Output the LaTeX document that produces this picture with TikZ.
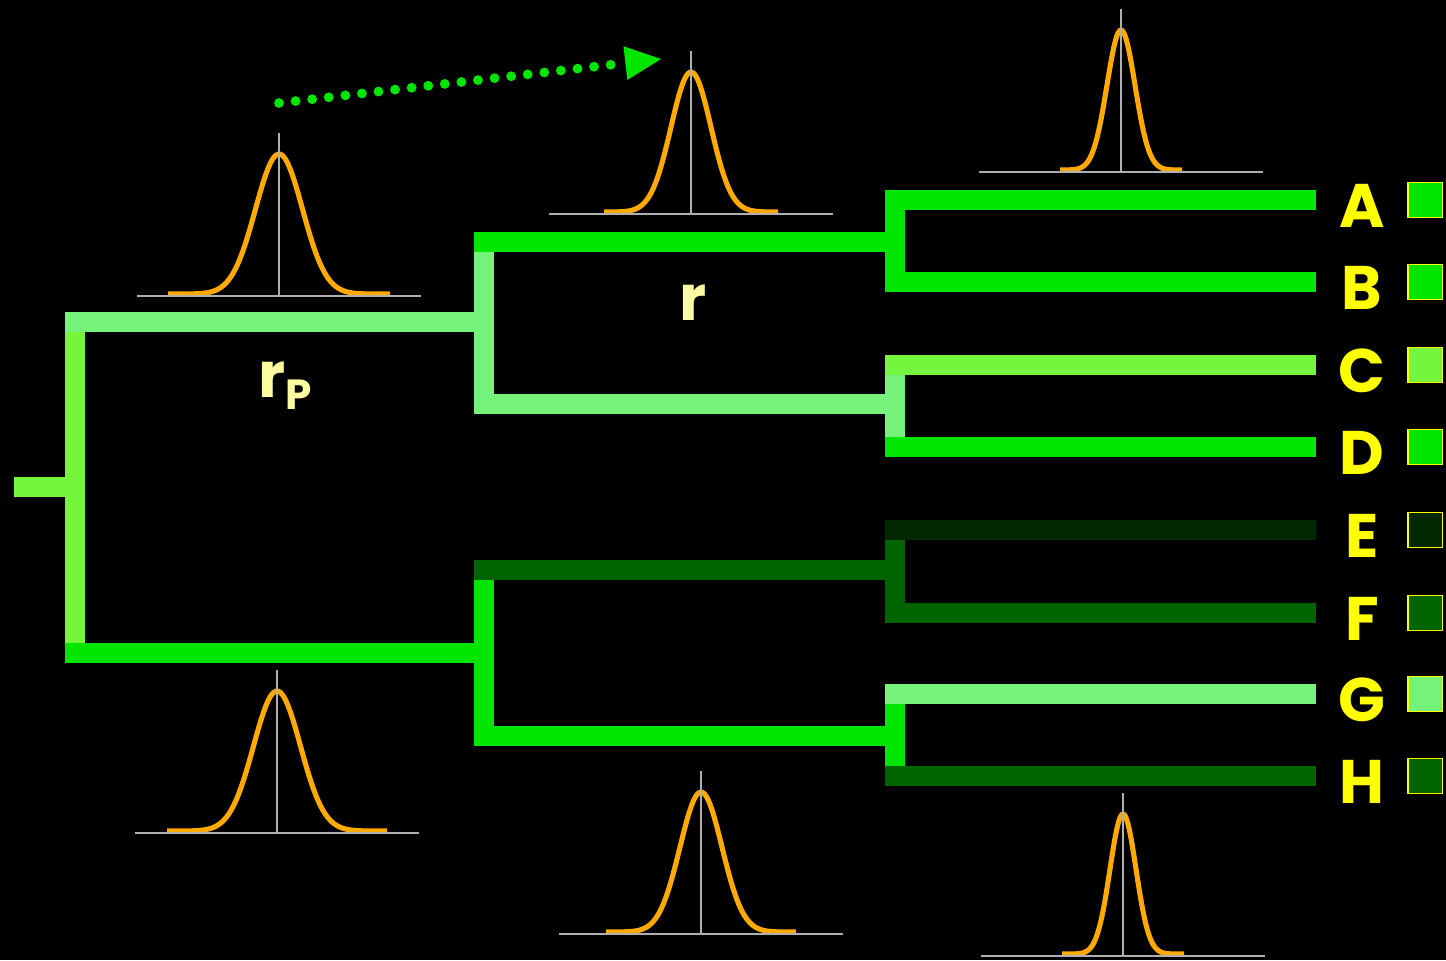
\documentclass[tikz,border=0pt]{standalone}
\usepackage{fontspec}
\setmainfont{Poppins}
\usepackage{tikz}
\usetikzlibrary{arrows.meta,positioning}

\definecolor{brightgr}{RGB}{0,230,0}
\definecolor{paleg}{RGB}{116,242,122}
\definecolor{limeg}{RGB}{118,245,62}
\definecolor{darkgr}{RGB}{0,100,0}
\definecolor{deepgr}{RGB}{0,40,0}
\definecolor{curveorange}{RGB}{255,170,0}
\definecolor{axisgrey}{RGB}{175,175,175}
\definecolor{labelyellow}{RGB}{255,255,0}
\definecolor{rateyellow}{RGB}{255,250,160}

% one rate distribution: centre x, baseline y, spread, tail half-width
\newcommand{\distcurve}[4]{%
  \draw[density] plot[domain=-#4:#4, samples=90] ({#1+\x},{#2-2-140*exp(-0.5*(\x/#3)^2)});
  \draw[axisline] (#1-142,#2) -- (#1+142,#2);
  \draw[axisline] (#1,#2) -- (#1,#2-163);
}

\begin{document}
\begin{tikzpicture}[
    x=0.02cm, y=-0.02cm,
    branch/.style={line width=11.9pt, line cap=rect},
    axisline/.style={draw=axisgrey, line width=1.4pt},
    density/.style={draw=curveorange, line width=2.9pt, line join=round},
    tiplabel/.style={text=labelyellow, anchor=base, font=\bfseries\fontsize{35}{35}\selectfont},
    swatch/.style={draw=labelyellow, line width=1pt, minimum size=19.8pt, inner sep=0pt},
    ratelabel/.style={text=rateyellow, font=\bfseries\fontsize{36}{36}\selectfont},
    dots/.style={draw=brightgr, line width=5.6pt, line cap=round, dash pattern=on 0pt off 9.5pt}
  ]
    \fill[black] (0,0) rectangle (1446,960);
    \useasboundingbox (0,0) rectangle (1446,960);

    % tree points
    \coordinate (stem) at (24,487);
    \coordinate (root) at (75,487);
    \coordinate (upper) at (484,322);
    \coordinate (lower) at (484,653);
    \coordinate (cladeAB) at (895,242);
    \coordinate (cladeCD) at (895,404);
    \coordinate (cladeEF) at (895,570);
    \coordinate (cladeGH) at (895,736);
    \coordinate (tipA) at (1306,200);
    \coordinate (tipB) at (1306,282);
    \coordinate (tipC) at (1306,365);
    \coordinate (tipD) at (1306,447);
    \coordinate (tipE) at (1306,530);
    \coordinate (tipF) at (1306,613);
    \coordinate (tipG) at (1306,694);
    \coordinate (tipH) at (1306,776);

    % vertical bars first
    \draw[branch, limeg] (stem) -- (root);
    \draw[branch, limeg] (root |- upper) -- (root |- lower);
    \draw[branch, paleg] (upper |- cladeAB) -- (upper |- cladeCD);
    \draw[branch, brightgr] (lower |- cladeEF) -- (lower |- cladeGH);
    \draw[branch, brightgr] (cladeAB |- tipA) -- (cladeAB |- tipB);
    \draw[branch, paleg] (cladeCD |- tipC) -- (cladeCD |- tipD);
    \draw[branch, darkgr] (cladeEF |- tipE) -- (cladeEF |- tipF);
    \draw[branch, brightgr] (cladeGH |- tipG) -- (cladeGH |- tipH);

    % horizontal bars on top
    \draw[branch, paleg] (root |- upper) -- (upper);
    \draw[branch, brightgr] (root |- lower) -- (lower);
    \draw[branch, brightgr] (upper |- cladeAB) -- (cladeAB);
    \draw[branch, paleg] (upper |- cladeCD) -- (cladeCD);
    \draw[branch, darkgr] (lower |- cladeEF) -- (cladeEF);
    \draw[branch, brightgr] (lower |- cladeGH) -- (cladeGH);
    \draw[branch, brightgr] (cladeAB |- tipA) -- (tipA);
    \draw[branch, brightgr] (cladeAB |- tipB) -- (tipB);
    \draw[branch, limeg] (cladeCD |- tipC) -- (tipC);
    \draw[branch, brightgr] (cladeCD |- tipD) -- (tipD);
    \draw[branch, deepgr] (cladeEF |- tipE) -- (tipE);
    \draw[branch, darkgr] (cladeEF |- tipF) -- (tipF);
    \draw[branch, paleg] (cladeGH |- tipG) -- (tipG);
    \draw[branch, darkgr] (cladeGH |- tipH) -- (tipH);

    % tip names and colour swatches
    \node[tiplabel] (labA) at (1362,227) {A};
    \node[tiplabel] (labB) at (1362,309) {B};
    \node[tiplabel] (labC) at (1362,392) {C};
    \node[tiplabel] (labD) at (1362,474) {D};
    \node[tiplabel] (labE) at (1362,557) {E};
    \node[tiplabel] (labF) at (1362,640) {F};
    \node[tiplabel] (labG) at (1362,721) {G};
    \node[tiplabel] (labH) at (1362,803) {H};
    \node[swatch, fill=brightgr] (boxA) at (1425,200) {};
    \node[swatch, fill=brightgr] (boxB) at (1425,282) {};
    \node[swatch, fill=limeg] (boxC) at (1425,365) {};
    \node[swatch, fill=brightgr] (boxD) at (1425,447) {};
    \node[swatch, fill=deepgr] (boxE) at (1425,530) {};
    \node[swatch, fill=darkgr] (boxF) at (1425,613) {};
    \node[swatch, fill=paleg] (boxG) at (1425,694) {};
    \node[swatch, fill=darkgr] (boxH) at (1425,776) {};

    % rate labels
    \node[ratelabel, anchor=base] (rate) at (693,320) {r};
    \node[ratelabel, anchor=base west] (parentrate) at (252,397) {r\raisebox{-7pt}{\fontsize{24}{24}\selectfont P}};

    % rate distributions
    \distcurve{279}{296}{23.5}{111}
    \distcurve{691}{214}{20}{87}
    \distcurve{1121}{172}{14}{61}
    \distcurve{277}{833}{23.5}{110}
    \distcurve{701}{934}{21}{95}
    \distcurve{1123}{956}{13}{61}

    % inheritance arrow
    \coordinate (arrowtail) at (279,103);
    \coordinate (arrowhead) at (661,59);
    \draw[dots, -{Triangle[length=20.4pt, width=19.3pt, line width=0pt]}] (arrowtail) -- (arrowhead);
  \end{tikzpicture}
\end{document}
